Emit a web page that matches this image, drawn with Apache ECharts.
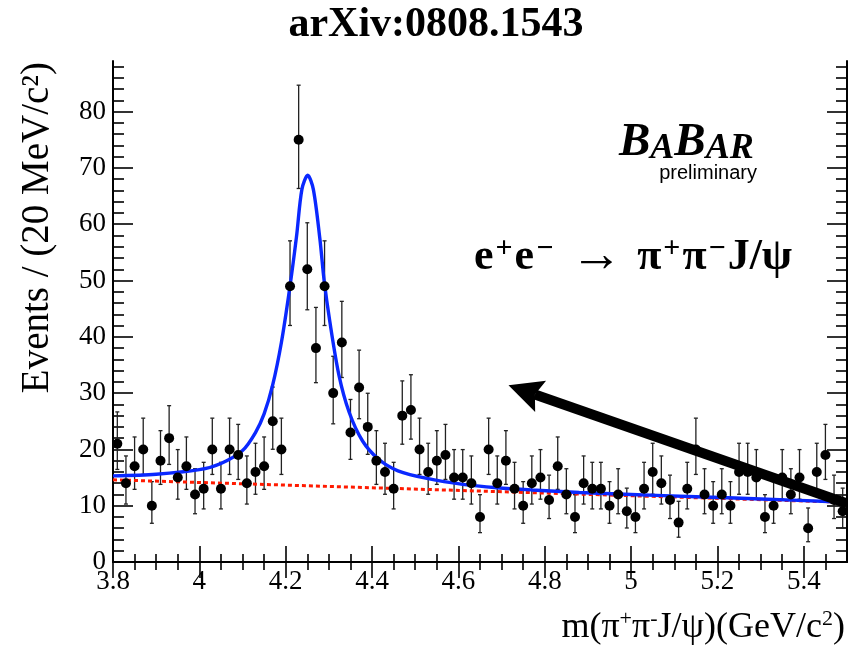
<!DOCTYPE html>
<html>
<head>
<meta charset="utf-8">
<script src="https://cdn.jsdelivr.net/npm/echarts@6/dist/echarts.min.js"></script>
<style>
  html, body { margin: 0; padding: 0; background: #ffffff; }
  #chart { width: 848px; height: 647px; }
</style>
</head>
<body>
<div id="chart"></div>
<script>
// m(pi+ pi- J/psi) spectrum, 20 MeV/c^2 bins from 3.80 to 5.50 GeV/c^2
const massMin = 3.80;
const massMax = 5.50;
const binWidth = 0.02;

// Events per bin
const counts = [
  21, 14, 17, 20, 10, 18, 22, 15, 17, 12,
  13, 20, 13, 20, 19, 14, 16, 17, 25, 20,
  49, 75, 52, 38, 49, 30, 39, 23, 31, 24,
  18, 16, 13, 26, 27, 20, 16, 18, 19, 15,
  15, 14,  8, 20, 14, 18, 13, 10, 14, 15,
  11, 17, 12,  8, 14, 13, 13, 10, 12,  9,
   8, 13, 16, 14, 11,  7, 13, 20, 12, 10,
  12, 10, 16, 16, 15,  8, 10, 15, 12, 15,
   6, 16, 19, 11,  9
];

// Total fit (signal + background), sampled along the curve
const fitTotal = [
  [3.80, 15.3], [3.90, 15.6], [4.00, 16.4], [4.05, 17.5], [4.10, 19.8],
  [4.13, 23.0], [4.15, 26.3], [4.17, 31.5], [4.19, 39.0], [4.209, 48.5],
  [4.225, 57.8], [4.2375, 66.2], [4.251, 68.7], [4.264, 66.2], [4.279, 57.5],
  [4.289, 50.0], [4.302, 42.8], [4.323, 33.3], [4.347, 26.6], [4.378, 21.5],
  [4.416, 18.2], [4.46, 16.2], [4.53, 14.8], [4.61, 13.8], [4.69, 13.2],
  [4.77, 12.8], [4.88, 12.35], [5.00, 12.0], [5.15, 11.6], [5.30, 11.2],
  [5.47, 10.7]
];

// Linear background component
const fitBackground = [[3.80, 14.6], [5.50, 10.6]];

// Axis ticks and labels
const xMajorTicks = [3.8, 4.0, 4.2, 4.4, 4.6, 4.8, 5.0, 5.2, 5.4];
const yMajorTicks = [0, 10, 20, 30, 40, 50, 60, 70, 80];
const yMax = 89;

// Annotation arrow (data coordinates): from tail to tip
const arrowTail = [5.50, 10.4];
const arrowTip = [4.716, 31.4];

// ---------------------------------------------------------------
const SERIF = '"Liberation Serif", "Times New Roman", serif';
const SANS = '"Liberation Sans", Arial, sans-serif';

const binCentres = counts.map((_, i) => +(massMin + (i + 0.5) * binWidth).toFixed(3));
const points = counts.map((n, i) => [binCentres[i], n]);

// Poisson (Garwood-style) asymmetric intervals for the error bars
const errorBars = counts.map((n, i) => {
  const lo = n - Math.sqrt(Math.max(n - 0.25, 0));
  const hi = n + 1 + Math.sqrt(n + 0.75);
  return [binCentres[i], lo, hi];
});

const xMinorTicks = [];
for (let k = 1; k < 34; k++) {
  const v = +(massMin + k * 0.05).toFixed(2);
  if (k % 4 !== 0) xMinorTicks.push(v);
}
const yMinorTicks = [];
for (let v = 2; v < yMax; v += 2) {
  if (v % 10 !== 0) yMinorTicks.push(v);
}

const fmt = v => String(+(+v).toFixed(1));

function xAxisDef(position, values, len, withLabels, withLine) {
  return {
    type: 'value', position: position, min: massMin, max: massMax,
    axisLine: { show: withLine, lineStyle: { color: '#000', width: 2 } },
    axisTick: { show: true, inside: true, length: len, customValues: values,
                lineStyle: { color: '#000', width: 1.6 } },
    axisLabel: withLabels ? {
      show: true, customValues: xMajorTicks, formatter: fmt, margin: 6,
      fontFamily: SERIF, fontSize: 27, color: '#000'
    } : { show: false },
    splitLine: { show: false }
  };
}
function yAxisDef(position, values, len, withLabels, withLine) {
  return {
    type: 'value', position: position, min: 0, max: yMax,
    axisLine: { show: withLine, lineStyle: { color: '#000', width: 2 } },
    axisTick: { show: true, inside: true, length: len, customValues: values,
                lineStyle: { color: '#000', width: 1.6 } },
    axisLabel: withLabels ? {
      show: true, customValues: yMajorTicks, formatter: fmt, margin: 7,
      fontFamily: SERIF, fontSize: 27, color: '#000'
    } : { show: false },
    splitLine: { show: false }
  };
}

const chart = echarts.init(document.getElementById('chart'), null, { renderer: 'canvas' });

const option = {
  animation: false,
  backgroundColor: '#ffffff',
  grid: { left: 113, right: 1, top: 61, bottom: 85, containLabel: false },
  xAxis: [
    xAxisDef('bottom', xMajorTicks, 16, true, true),
    xAxisDef('bottom', xMinorTicks, 8, false, false),
    xAxisDef('top', xMajorTicks, 16, false, true),
    xAxisDef('top', xMinorTicks, 8, false, false)
  ],
  yAxis: [
    yAxisDef('left', yMajorTicks, 20, true, true),
    yAxisDef('left', yMinorTicks, 11, false, false),
    yAxisDef('right', yMajorTicks, 20, false, true),
    yAxisDef('right', yMinorTicks, 11, false, false)
  ],
  series: [
    {
      type: 'custom',
      name: 'errors',
      xAxisIndex: 0, yAxisIndex: 0,
      data: errorBars,
      z: 2,
      renderItem: function (params, api) {
        const x = api.value(0);
        const top = api.coord([x, api.value(2)]);
        const bot = api.coord([x, api.value(1)]);
        const cap = 2;
        const st = { stroke: '#222', lineWidth: 1.3 };
        return {
          type: 'group',
          children: [
            { type: 'line', shape: { x1: top[0], y1: top[1], x2: bot[0], y2: bot[1] }, style: st },
            { type: 'line', shape: { x1: top[0] - cap, y1: top[1], x2: top[0] + cap, y2: top[1] }, style: st },
            { type: 'line', shape: { x1: bot[0] - cap, y1: bot[1], x2: bot[0] + cap, y2: bot[1] }, style: st }
          ]
        };
      }
    },
    {
      type: 'line',
      name: 'background',
      xAxisIndex: 0, yAxisIndex: 0,
      data: fitBackground,
      showSymbol: false, symbol: 'none',
      lineStyle: { color: '#ff1a00', width: 3, type: [4, 3] },
      z: 3
    },
    {
      type: 'line',
      name: 'total',
      xAxisIndex: 0, yAxisIndex: 0,
      data: fitTotal,
      smooth: 0.3,
      showSymbol: false, symbol: 'none',
      lineStyle: { color: '#0a28ff', width: 3.4 },
      z: 4
    },
    {
      type: 'scatter',
      name: 'data',
      xAxisIndex: 0, yAxisIndex: 0,
      data: points,
      symbol: 'circle', symbolSize: 10,
      itemStyle: { color: '#000', opacity: 1 },
      z: 5
    }
  ]
};
chart.setOption(option);

// Text annotations and the arrow
const tip = chart.convertToPixel({ xAxisIndex: 0, yAxisIndex: 0 }, arrowTip);
const tail = chart.convertToPixel({ xAxisIndex: 0, yAxisIndex: 0 }, arrowTail);
const dx = tail[0] - tip[0], dy = tail[1] - tip[1];
const len = Math.hypot(dx, dy);
const ux = dx / len, uy = dy / len;      // along the shaft, tip -> tail
const nx = -uy, ny = ux;                 // perpendicular
const at = (a, p) => [tip[0] + ux * a + nx * p, tip[1] + uy * a + ny * p];
const notch = at(28, 0);

const red = '#ff3300';
const supStyle = (size, color, bold, pad) => ({
  fontFamily: SERIF, fontSize: size, fontWeight: bold ? 'bold' : 'normal',
  color: color, verticalAlign: 'top', lineHeight: size, padding: pad || 0
});

chart.setOption({
  graphic: [
    {
      type: 'text', x: 436, y: 25, z: 10,
      style: { text: 'arXiv:0808.1543', font: 'bold 42px ' + SERIF, fill: '#000',
               align: 'center', verticalAlign: 'middle' }
    },
    {
      type: 'text', x: 38, y: 62, rotation: Math.PI / 2, z: 10,
      style: { text: 'Events / (20 MeV/c²)', font: '39px ' + SERIF, fill: '#000',
               align: 'right', verticalAlign: 'middle' }
    },
    {
      type: 'text', x: 845, y: 628, z: 10,
      style: {
        text: '{t|m(π}{s|+}{t|π}{s|-}{t|J/ψ)(GeV/c}{s|2}{t|)}',
        align: 'right', verticalAlign: 'middle',
        rich: {
          t: { fontFamily: SERIF, fontSize: 36, color: '#000', lineHeight: 40 },
          s: supStyle(22, '#000', false)
        }
      }
    },
    {
      type: 'text', x: 619, y: 143, z: 10,
      style: {
        text: '{b|B}{a|A}{b|B}{a|AR}',
        align: 'left', verticalAlign: 'middle',
        rich: {
          b: { fontFamily: SERIF, fontStyle: 'italic', fontWeight: 'bold', fontSize: 47,
               color: '#000', verticalAlign: 'bottom', lineHeight: 47 },
          a: { fontFamily: SERIF, fontStyle: 'italic', fontWeight: 'bold', fontSize: 36,
               color: '#000', verticalAlign: 'bottom', lineHeight: 40 }
        }
      }
    },
    {
      type: 'text', x: 757, y: 173, z: 10,
      style: { text: 'preliminary', font: '20px ' + SANS, fill: '#000',
               align: 'right', verticalAlign: 'middle' }
    },
    {
      type: 'text', x: 474, y: 258, z: 10,
      style: {
        text: '{t|e}{s|+}{t|e}{s|−}{a|→}{t|π}{s|+}{t|π}{s|−}{t|J/ψ}',
        align: 'left', verticalAlign: 'middle',
        rich: {
          t: { fontFamily: SERIF, fontWeight: 'bold', fontSize: 44, color: red, lineHeight: 48 },
          s: supStyle(30, red, true, [0, 2, 0, 2]),
          a: { fontFamily: SERIF, fontWeight: 'bold', fontSize: 52, color: red, lineHeight: 48,
               padding: [0, 15, 0, 15] }
        }
      }
    },
    {
      type: 'line', z: 20,
      shape: { x1: notch[0], y1: notch[1], x2: tail[0], y2: tail[1] },
      style: { stroke: '#000', lineWidth: 10 }
    },
    {
      type: 'polygon', z: 21,
      shape: { points: [tip, at(34, -16.5), notch, at(34, 16.5)] },
      style: { fill: '#000' }
    }
  ]
});
</script>
</body>
</html>
